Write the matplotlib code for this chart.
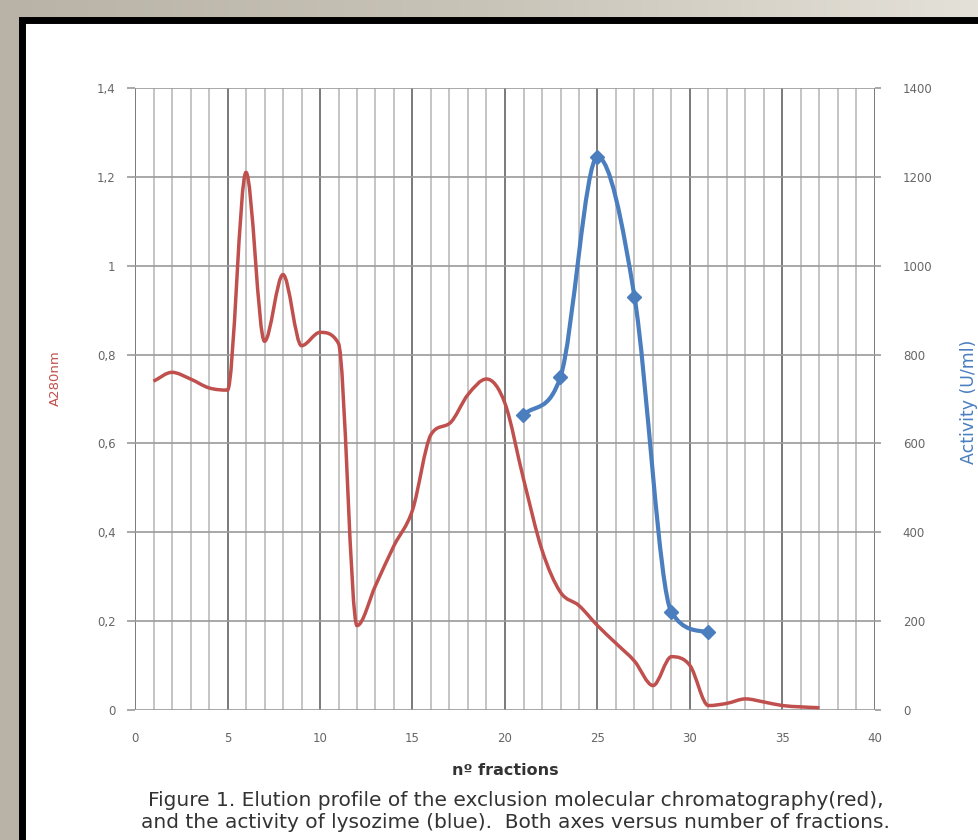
import numpy as np
import matplotlib
matplotlib.use("Agg")
import matplotlib.pyplot as plt
from matplotlib.path import Path
from matplotlib.patches import PathPatch, Rectangle
from matplotlib.ticker import FuncFormatter, MultipleLocator

plt.rcParams['font.family'] = ['DejaVu Sans']

# absorbance A280 per fraction (red)
fractions = list(range(1, 38))
a280 = [0.74, 0.76, 0.745, 0.725, 0.72, 1.21, 0.83, 0.98, 0.82, 0.85,
        0.825, 0.19, 0.28, 0.37, 0.45, 0.62, 0.645, 0.71, 0.745, 0.69,
        0.52, 0.36, 0.265, 0.235, 0.19, 0.15, 0.11, 0.055, 0.12, 0.10,
        0.01, 0.015, 0.025, 0.018, 0.01, 0.007, 0.005]

# lysozyme activity (blue)
act_fractions = [21, 23, 25, 27, 29, 31]
activity = [665, 750, 1245, 930, 220, 175]

left_ticks = [0, 0.2, 0.4, 0.6, 0.8, 1.0, 1.2, 1.4]
right_ticks = [0, 200, 400, 600, 800, 1000, 1200, 1400]

RED = '#c0504d'
BLUE = '#4a7ebf'


def smooth_path(xs, ys):
    # smoothed line: catmull-rom tangents, limited so segments don't overshoot
    x = np.asarray(xs, float)
    y = np.asarray(ys, float)
    h = np.diff(x)
    d = np.diff(y) / h
    m = np.zeros_like(y)
    m[0], m[-1] = d[0], d[-1]
    for k in range(1, len(y) - 1):
        if d[k - 1] * d[k] > 0:
            m[k] = (y[k + 1] - y[k - 1]) / (x[k + 1] - x[k - 1])
    for k in range(len(d)):
        if d[k] == 0:
            m[k] = m[k + 1] = 0
            continue
        a, b = m[k] / d[k], m[k + 1] / d[k]
        s = a * a + b * b
        if s > 9:
            t = 3 / np.sqrt(s)
            m[k], m[k + 1] = t * a * d[k], t * b * d[k]
    verts = [(x[0], y[0])]
    codes = [Path.MOVETO]
    for i in range(len(x) - 1):
        verts += [(x[i] + h[i] / 3, y[i] + m[i] * h[i] / 3),
                  (x[i + 1] - h[i] / 3, y[i + 1] - m[i + 1] * h[i] / 3),
                  (x[i + 1], y[i + 1])]
        codes += [Path.CURVE4] * 3
    return Path(verts, codes)


fig = plt.figure(figsize=(9.79, 8.4), dpi=100)

# photo background + framed sheet
bg = fig.add_axes([0, 0, 1, 1], zorder=-10)
grad = np.linspace(0, 1, 256).reshape(1, -1)
bg.imshow(grad, aspect='auto', extent=[0, 1, 0, 1],
          cmap=matplotlib.colors.LinearSegmentedColormap.from_list(
              'bgc', ['#b9b3a7', '#c9c4b8', '#e4e1d9']))
bg.add_patch(Rectangle((22 / 979, -0.05), 1.2, 1 - 20 / 840 + 0.05,
                       facecolor='white', edgecolor='black', linewidth=5))
bg.set_xlim(0, 1)
bg.set_ylim(0, 1)
bg.axis('off')

ax = fig.add_axes([135 / 979, 130 / 840, 740 / 979, 622 / 840])
ax.set_xlim(0, 40)
ax.set_ylim(0, 1.4)
ax.xaxis.set_major_locator(MultipleLocator(5))
ax.xaxis.set_minor_locator(MultipleLocator(1))
ax.set_yticks(left_ticks)
ax.grid(which='minor', axis='x', color='#b4b4b4', linewidth=1.1)
ax.grid(which='major', axis='x', color='#7a7a7a', linewidth=1.4)
ax.grid(which='major', axis='y', color='#9a9a9a', linewidth=1.2)
for s in ax.spines.values():
    s.set_visible(False)
ax.tick_params(which='both', length=0, labelsize=8.5, colors='#666666')
ax.tick_params(axis='y', length=6, width=1.2, color='#9a9a9a', pad=8)
ax.tick_params(axis='x', pad=16)
ax.yaxis.set_major_formatter(FuncFormatter(
    lambda v, pos: ('%g' % round(v, 1)).replace('.', ',')))
ax.set_axisbelow(True)

ax.add_patch(PathPatch(smooth_path(fractions, a280), facecolor='none',
                       edgecolor=RED, linewidth=2.5, zorder=3))

ax.set_ylabel('A280nm', color=RED, fontsize=9.5)
ax.yaxis.set_label_coords(-0.099, 0.534)
ax.set_xlabel('nº fractions', fontsize=11.5, fontweight='bold', color='#333333')
ax.xaxis.set_label_coords(0.5, -0.085)

ax2 = ax.twinx()
ax2.set_ylim(0, 1400)
ax2.set_yticks(right_ticks)
for s in ax2.spines.values():
    s.set_visible(False)
ax2.tick_params(length=4, width=1.2, color='#9a9a9a', labelsize=8.5,
                labelcolor='#666666', pad=16)
ax2.add_patch(PathPatch(smooth_path(act_fractions, activity), facecolor='none',
                        edgecolor=BLUE, linewidth=3, zorder=4))
ax2.plot(act_fractions, activity, linestyle='none', marker='D',
         markersize=7, color=BLUE, zorder=5)
ax2.set_ylabel('Activity (U/ml)', color=BLUE, fontsize=12.5, rotation=90)
ax2.yaxis.set_label_coords(1.115, 0.495)

fig.text(0.527, 1 - 801 / 840,
         'Figure 1. Elution profile of the exclusion molecular chromatography(red),',
         ha='center', va='center', fontsize=14.5, color='#333333')
fig.text(0.527, 1 - 823 / 840,
         'and the activity of lysozime (blue).  Both axes versus number of fractions.',
         ha='center', va='center', fontsize=14.5, color='#333333')

fig.savefig('out.png', dpi=100)
